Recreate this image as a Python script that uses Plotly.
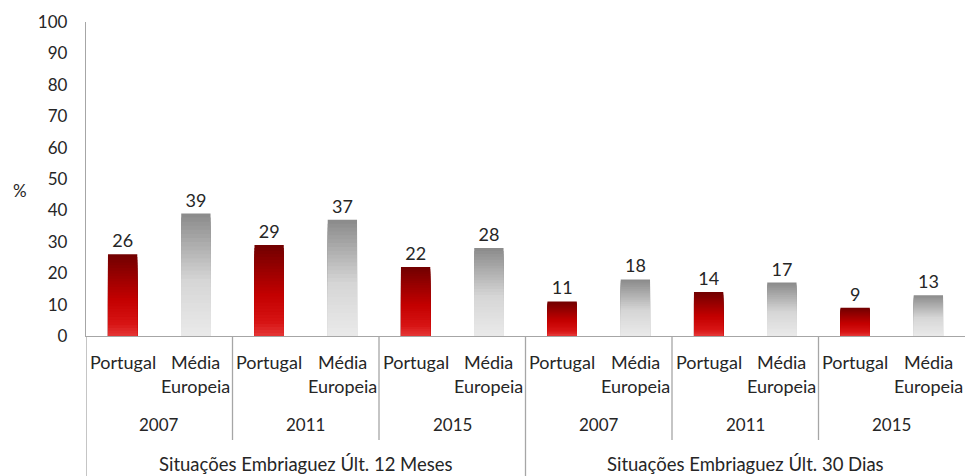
import plotly.graph_objects as go

# ---- data ----
groups = ["Situações Embriaguez Últ. 12 Meses", "Situações Embriaguez Últ. 30 Dias"]
years = ["2007", "2011", "2015"]
series_names = ["Portugal", "Média\nEuropeia"]
portugal = [26, 29, 22, 11, 14, 9]
media_europeia = [39, 37, 28, 18, 17, 13]
y_ticks = list(range(0, 101, 10))

# ---- styling ----
FONT = "Lato"
TXT = "#262626"
AXIS = "#a6a6a6"
N = 30
red_stops = [(0.0, (112, 0, 0)), (0.55, (195, 0, 0)), (0.85, (215, 20, 20)), (1.0, (228, 55, 55))]
gray_stops = [(0.0, (138, 138, 138)), (0.55, (214, 214, 214)), (1.0, (234, 234, 234))]


def interp(stops, t):
    for (t0, c0), (t1, c1) in zip(stops[:-1], stops[1:]):
        if t0 <= t <= t1:
            f = (t - t0) / (t1 - t0) if t1 > t0 else 0
            return "rgb(%d,%d,%d)" % tuple(round(a + (b - a) * f) for a, b in zip(c0, c1))
    return "rgb(%d,%d,%d)" % stops[-1][1]


n_sub = len(series_names)
n_cat = len(groups) * len(years)
x_port = [i * n_sub for i in range(n_cat)]
x_media = [i * n_sub + 1 for i in range(n_cat)]

fig = go.Figure()
for xs, vals, stops in [(x_port, portugal, red_stops), (x_media, media_europeia, gray_stops)]:
    for k in range(N):
        frac = (N - k) / N
        color = interp(stops, (k + 0.5) / N)
        fig.add_trace(go.Bar(
            x=xs, y=[v * frac for v in vals], width=0.4,
            marker=dict(color=color, line=dict(width=0)),
            text=[str(v) for v in vals] if k == 0 else None,
            textposition="outside" if k == 0 else "none",
            textfont=dict(family=FONT, size=18, color=TXT),
            cliponaxis=False, hoverinfo="skip", showlegend=False,
        ))

plot_h = 476 - 22 - 140


def py(pix):
    return (336 - pix) / plot_h


annotations = []
# sub-category labels
for i in range(n_cat):
    for s, name in enumerate(series_names):
        lines = name.split("\n")
        for li, line in enumerate(lines):
            annotations.append(dict(
                x=i * n_sub + s, xref="x", y=py(362 + 24 * li), yref="paper",
                text=line, showarrow=False, xanchor="center", yanchor="middle",
                font=dict(family=FONT, size=18, color=TXT)))
# years
for gi in range(len(groups)):
    for yi, yr in enumerate(years):
        i = gi * len(years) + yi
        annotations.append(dict(
            x=i * n_sub + (n_sub - 1) / 2, xref="x", y=py(424), yref="paper",
            text=yr, showarrow=False, xanchor="center", yanchor="middle",
            font=dict(family=FONT, size=17, color=TXT)))
# groups
for gi, g in enumerate(groups):
    span = len(years) * n_sub
    annotations.append(dict(
        x=gi * span + (span - 1) / 2, xref="x", y=py(464), yref="paper",
        text=g, showarrow=False, xanchor="center", yanchor="middle",
        font=dict(family=FONT, size=18.5, color=TXT)))
annotations.append(dict(
    x=(20 - 86) / 879, xref="paper", y=py(190), yref="paper", text="%",
    showarrow=False, xanchor="center", yanchor="middle",
    font=dict(family=FONT, size=17, color=TXT)))

shapes = []
# left border extending down
shapes.append(dict(type="line", xref="x", yref="paper", x0=-0.5, x1=-0.5,
                   y0=0, y1=py(476), line=dict(color=AXIS, width=1.3)))
for j in range(1, n_cat):
    xb = j * n_sub - 0.5
    bottom = py(476) if j % len(years) == 0 else py(440)
    shapes.append(dict(type="line", xref="x", yref="paper", x0=xb, x1=xb,
                       y0=0, y1=bottom, line=dict(color=AXIS, width=1.3)))

fig.update_layout(
    width=965, height=476,
    margin=dict(l=86, r=0, t=22, b=140),
    paper_bgcolor="white", plot_bgcolor="white",
    barmode="overlay",
    annotations=annotations, shapes=shapes,
    xaxis=dict(range=[-0.5, n_cat * n_sub - 0.5], showticklabels=False, showgrid=False,
               zeroline=False, showline=True, linecolor=AXIS, linewidth=1.3, ticks=""),
    yaxis=dict(range=[0, 100], tickvals=y_ticks, showgrid=False, zeroline=False,
               showline=True, linecolor=AXIS, linewidth=1.3, ticks="",
               ticklabelstandoff=14,
               tickfont=dict(family=FONT, size=17, color=TXT)),
)

fig.write_html("out.html", config={"displayModeBar": False},
               post_script="document.body.style.margin='0';document.body.style.overflow='hidden';")
